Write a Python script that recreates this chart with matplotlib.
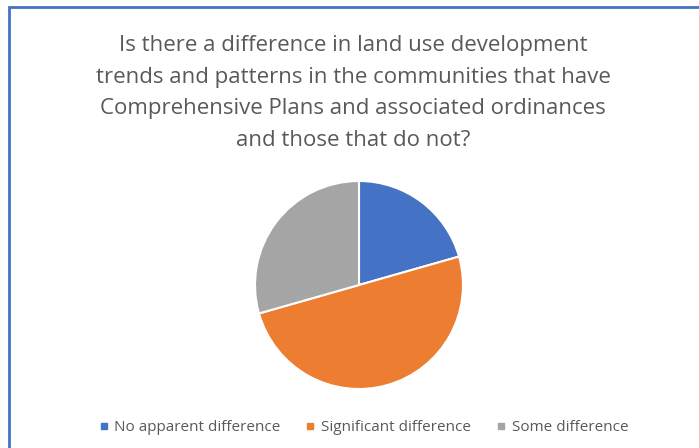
import matplotlib.pyplot as plt
from matplotlib.patches import Rectangle
from matplotlib.lines import Line2D

plt.rcParams['font.family'] = ['Open Sans', 'DejaVu Sans']

title = ('Is there a difference in land use development\n'
         'trends and patterns in the communities that have\n'
         'Comprehensive Plans and associated ordinances\n'
         'and those that do not?')
labels = ['No apparent difference', 'Significant difference', 'Some difference']
counts = [7, 17, 10]
colors = ['#4472C4', '#ED7D31', '#A5A5A5']
text_color = '#595959'

fig = plt.figure(figsize=(6.99, 4.48), dpi=100)

# pie, centre ~ (359, 285) px, radius ~104 px
r = 104
cx, cy = 359, 285
ax = fig.add_axes([(cx - r) / 699, (448 - cy - r) / 448, 2 * r / 699, 2 * r / 448])
ax.pie(counts, colors=colors, startangle=90, counterclock=False,
       wedgeprops=dict(edgecolor='white', linewidth=1.5))
ax.set_aspect('auto')
ax.set_xlim(-1, 1)
ax.set_ylim(-1, 1)

fig.text(0.505, 1 - 35 / 448, title, ha='center', va='top', fontsize=16,
         color=text_color, linespacing=1.67)

handles = [Line2D([], [], marker='s', linestyle='none', markersize=5,
                  markerfacecolor=c, markeredgecolor=c) for c in colors]
fig.legend(handles, labels, loc='center', bbox_to_anchor=(0.518, 0.045), ncol=3,
           frameon=False, fontsize=11, labelcolor=text_color,
           handletextpad=0.2, columnspacing=1.45, handlelength=1.0)

# border visible on top and left
fig.add_artist(Rectangle((8.5 / 699, -0.1), 1.2, 1.1 - 7.5 / 448,
                         transform=fig.transFigure, fill=False,
                         edgecolor='#4472C4', linewidth=2))

fig.savefig('out.png', dpi=100)
